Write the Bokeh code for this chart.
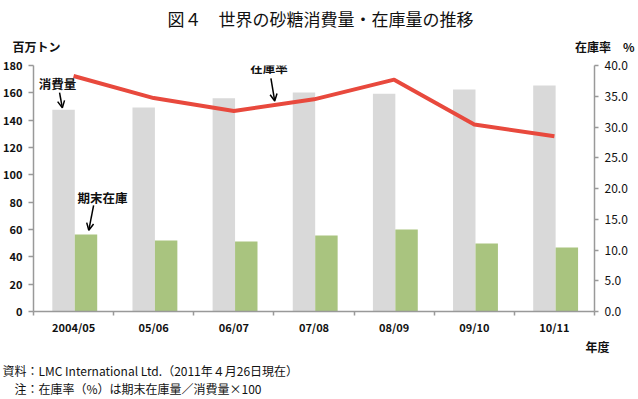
from bokeh.plotting import figure
from bokeh.layouts import column
from bokeh.models import (Range1d, LinearAxis, FixedTicker, NumeralTickFormatter,
                          Label, Arrow, OpenHead, ColumnDataSource)
from bokeh.core.properties import value
from bokeh.transform import dodge
from bokeh.embed import file_html
from bokeh.resources import INLINE

# ---- data ----
years = ["2004/05", "05/06", "06/07", "07/08", "08/09", "09/10", "10/11"]
consumption = [147.6, 149.2, 156.0, 160.2, 159.3, 162.4, 165.3]   # 消費量 (百万トン)
stocks = [56.3, 52.0, 51.2, 55.6, 60.0, 49.7, 46.8]               # 期末在庫 (百万トン)
stock_ratio = [38.3, 34.7, 32.6, 34.5, 37.7, 30.4, 28.5]          # 在庫率 (%)
left_ticks = [0, 20, 40, 60, 80, 100, 120, 140, 160, 180]
right_ticks = [0, 5, 10, 15, 20, 25, 30, 35, 40]

title_text = "図４　世界の砂糖消費量・在庫量の推移"
left_unit = "百万トン"
right_unit = "在庫率　%"
x_unit = "年度"
note1 = "資料：LMC International Ltd.（2011年４月26日現在）"
note2 = "　注：在庫率（%）は期末在庫量／消費量×100"

JP = "Noto Sans CJK JP"
GRAY_AX = "#999999"
TXT = "#111111"
W = 638


def no_align(f):
    try:
        f.frame_align = False
    except Exception:
        pass


def text_strip(h):
    f = figure(width=W, height=h, x_range=Range1d(0, W), y_range=Range1d(h, 0),
               output_backend="svg", toolbar_location=None, min_border=0,
               x_axis_location=None, y_axis_location=None,
               background_fill_color="white", border_fill_color="white")
    f.outline_line_color = None
    f.grid.visible = False
    no_align(f)
    return f


# ---- top strip (title + unit labels) ----
top = text_strip(54)
top.text(x=[320], y=[18], text=[title_text], text_font=value(JP), text_font_size="17px",
         text_align="center", text_baseline="middle", text_color=TXT)
top.text(x=[12], y=[46], text=[left_unit], text_font=value(JP), text_font_size="12px",
         text_font_style="bold", text_align="left", text_baseline="middle", text_color=TXT)
top.text(x=[634], y=[46], text=[right_unit], text_font=value(JP), text_font_size="12px",
         text_font_style="bold", text_align="right", text_baseline="middle", text_color=TXT)

# ---- main chart ----
xs = list(range(len(years)))
src = ColumnDataSource(dict(x=xs, cons=consumption, stk=stocks, ratio=stock_ratio))

p = figure(width=W, height=283, output_backend="svg", toolbar_location=None,
           x_range=Range1d(-0.5, len(years) - 0.5), y_range=Range1d(0, 180),
           min_border_left=33, min_border_right=44, min_border_top=11, min_border_bottom=26,
           background_fill_color="white", border_fill_color="white")
p.outline_line_color = None
p.grid.visible = False
no_align(p)
p.extra_y_ranges = {"rate": Range1d(0, 40)}

p.vbar(x=dodge("x", -0.125, range=p.x_range), top="cons", width=0.28, source=src,
       fill_color="#d9d9d9", line_color=None)
p.vbar(x=dodge("x", 0.155, range=p.x_range), top="stk", width=0.28, source=src,
       fill_color="#a9c47f", line_color=None)
p.line(x="x", y="ratio", source=src, y_range_name="rate", line_color="#e8493d",
       line_width=4, line_join="round")

xa = p.xaxis[0]
xa.ticker = FixedTicker(ticks=xs, minor_ticks=[i - 0.5 for i in range(len(years) + 1)])
xa.major_label_overrides = {i: y for i, y in enumerate(years)}
xa.major_tick_out = 0
xa.major_tick_in = 0
xa.minor_tick_out = 4
xa.minor_tick_in = 0
xa.minor_tick_line_color = GRAY_AX
xa.minor_tick_line_width = 1.5
xa.axis_line_color = GRAY_AX
xa.axis_line_width = 1.5
xa.major_label_standoff = 3
xa.major_label_text_font = JP
xa.major_label_text_font_style = "bold"
xa.major_label_text_font_size = "11px"
xa.major_label_text_color = TXT

ya = p.yaxis[0]
ya.ticker = FixedTicker(ticks=left_ticks)
ya.minor_tick_line_color = None
ya.major_tick_out = 5
ya.major_tick_in = 0
ya.major_tick_line_color = GRAY_AX
ya.major_tick_line_width = 1.5
ya.axis_line_color = GRAY_AX
ya.axis_line_width = 1.5
ya.major_label_standoff = 6
ya.major_label_text_font = JP
ya.major_label_text_font_style = "bold"
ya.major_label_text_font_size = "11px"
ya.major_label_text_color = TXT

ra = LinearAxis(y_range_name="rate", ticker=FixedTicker(ticks=right_ticks),
                formatter=NumeralTickFormatter(format="0.0"))
ra.minor_tick_line_color = None
ra.major_tick_out = 4
ra.major_tick_in = 0
ra.major_tick_line_color = GRAY_AX
ra.major_tick_line_width = 1.5
ra.axis_line_color = GRAY_AX
ra.axis_line_width = 1.5
ra.major_label_standoff = 6
ra.major_label_text_font = JP
ra.major_label_text_font_size = "12px"
ra.major_label_text_color = TXT
p.add_layout(ra, "right")


def lab(x, y, text):
    p.add_layout(Label(x=x, y=y, x_units="data", y_units="data", text=text,
                       text_font=JP, text_font_size="12.5px", text_font_style="bold",
                       text_align="center", text_baseline="middle", text_color=TXT))


def arrow(x0, y0, x1, y1):
    p.add_layout(Arrow(end=OpenHead(size=7, line_width=1.5, line_color="black"),
                       x_start=x0, y_start=y0, x_end=x1, y_end=y1,
                       line_width=1.5, line_color="black"))


lab(-0.2, 166.8, "消費量")
arrow(-0.175, 160.2, -0.14, 149.0)
lab(0.3625, 83.4, "期末在庫")
arrow(0.25, 77.6, 0.19, 59.5)
lab(2.4375, 178.5, "在庫率")
arrow(2.4625, 170.5, 2.51, 154.0)

# ---- bottom strip (x unit + notes) ----
bot = text_strip(62)
bot.text(x=[597], y=[9], text=[x_unit], text_font=value(JP), text_font_size="12px",
         text_font_style="bold", text_align="center", text_baseline="middle", text_color=TXT)
bot.text(x=[2, 2], y=[33, 51], text=[note1, note2], text_font=value(JP),
         text_font_size="12px", text_align="left", text_baseline="middle", text_color=TXT)

layout = column(top, p, bot, spacing=0)
open("out.html", "w").write(file_html(layout, INLINE))
